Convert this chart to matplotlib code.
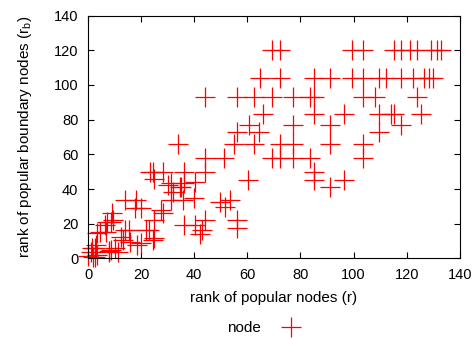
import numpy as np
import matplotlib.pyplot as plt
from matplotlib.lines import Line2D

plt.rcParams['font.family'] = ['Liberation Sans', 'DejaVu Sans']
plt.rcParams['mathtext.fontset'] = 'custom'
plt.rcParams['mathtext.rm'] = 'Liberation Sans'
plt.rcParams['mathtext.it'] = 'Liberation Sans'

# rank of popular nodes (r) vs rank of popular boundary nodes (r_b)
r = [69.4, 72.3, 99.4, 103.4, 115.4, 117.7, 121.2, 124, 129, 131.3, 132.8,
     64.6, 72.3, 85.2, 91.2, 99.4, 103.4, 109.5, 112.3, 117.7, 122.3, 126.7, 128.4, 129.9,
     43.9, 56.1, 62.4, 69.4, 77.3, 83.6, 85.2, 103.4, 108.2, 123.7,
     66, 85.2, 96.2, 109.5, 113.9, 115.1, 125.2,
     117.7, 60.5, 77.1, 91.2, 56.1, 64.4, 109.5,
     33.8, 54.9, 62.4, 72.3, 77.1, 91.2, 103.4,
     43.9, 51.1, 69.4, 72.3, 77.1, 83.6, 103.4,
     23.3, 24.3, 28.1, 36.0, 43.9, 85.2,
     25.0, 31.3, 35.1, 40.1, 60.3, 85.2, 96.2,
     30.0, 34.7, 36.1, 91.2,
     49.6, 53.6, 51.5, 35.7, 39.8, 31.3, 31.9, 18.0, 14.0,
     56.1, 56.1, 36.1, 43.9, 43.0, 42.0, 40.1,
     17.7, 19.9, 28.1, 27.5, 25.0,
     21.8, 25.0, 23.1, 24.6,
     9.5, 7.3, 8.6, 9.0, 6.3, 4.4, 6.7, 3.5, 13.9, 15.5,
     12.4, 13.2, 15.8, 18.3, 19.9, 10.1, 8.6,
     3.0, 1.3, 2.5, 7.8, 1.0, 3.5, 0.0, 2.0, 2.6, 11.1, 8.0]
rb = [120, 120, 120, 120, 120, 120, 120, 120, 120, 120, 120,
      104, 104, 104, 104, 104, 104, 104, 104, 104, 104, 104, 104, 104,
      93, 93, 93, 93, 93, 93, 93, 93, 93, 93,
      83, 83, 83, 83, 83, 83, 83,
      77, 77, 77, 77, 73, 73, 73,
      66, 66, 66, 66, 66, 66, 66,
      58, 58, 58, 58, 58, 58, 58,
      50, 50, 50, 50, 50, 50,
      46, 43.3, 41.4, 44.2, 45, 45, 45,
      42.3, 41.4, 43.3, 41.4,
      32.7, 33.7, 29.5, 33.7, 34.6, 33.7, 38.5, 33.7, 33.7,
      22.2, 17.4, 19.3, 22.2, 16.4, 14, 19.3,
      28.9, 28.9, 26.4, 28, 22.2,
      16.4, 11.6, 16.4, 10.7,
      22.2, 21.2, 21.2, 26, 19.3, 15.4, 15.4, 14.5, 16.4, 16.4,
      12.6, 10.7, 9.7, 7.8, 8.8, 5.9, 4.9,
      7.8, 5.9, 6, 4.3, 3.9, 2, 1.4, 0.7, 1, 3.9, 3.9]

fig = plt.figure(figsize=(4.76, 3.39), dpi=100)
ax = fig.add_axes([0.185, 0.2375, 0.781, 0.7165])

ax.plot(r, rb, linestyle='none', marker='+', markersize=14.5, markeredgewidth=0.9,
        color='red', clip_on=False)

ax.set_xlim(0, 140)
ax.set_ylim(0, 140)
ax.set_xticks(np.arange(0, 141, 20))
ax.set_yticks(np.arange(0, 141, 20))
ax.tick_params(direction='in', top=True, right=True, length=4, labelsize=10.5)
ax.tick_params(axis='x', pad=6.5)
ax.tick_params(axis='y', pad=7)
ax.set_xlabel('rank of popular nodes (r)', fontsize=11, labelpad=7)
ax.set_ylabel(r'rank of popular boundary nodes (r$_\mathrm{b}$)', fontsize=11, labelpad=14)

# legend under the axes, gnuplot style
h = Line2D([], [], linestyle='none', marker='+', markersize=14.5, markeredgewidth=0.9,
           color='red')
fig.legend([h], ['node'], loc='center', bbox_to_anchor=(0.56, 0.032), frameon=False,
           markerfirst=False, fontsize=11, handletextpad=1.0)

plt.savefig('out.png', dpi=100)
